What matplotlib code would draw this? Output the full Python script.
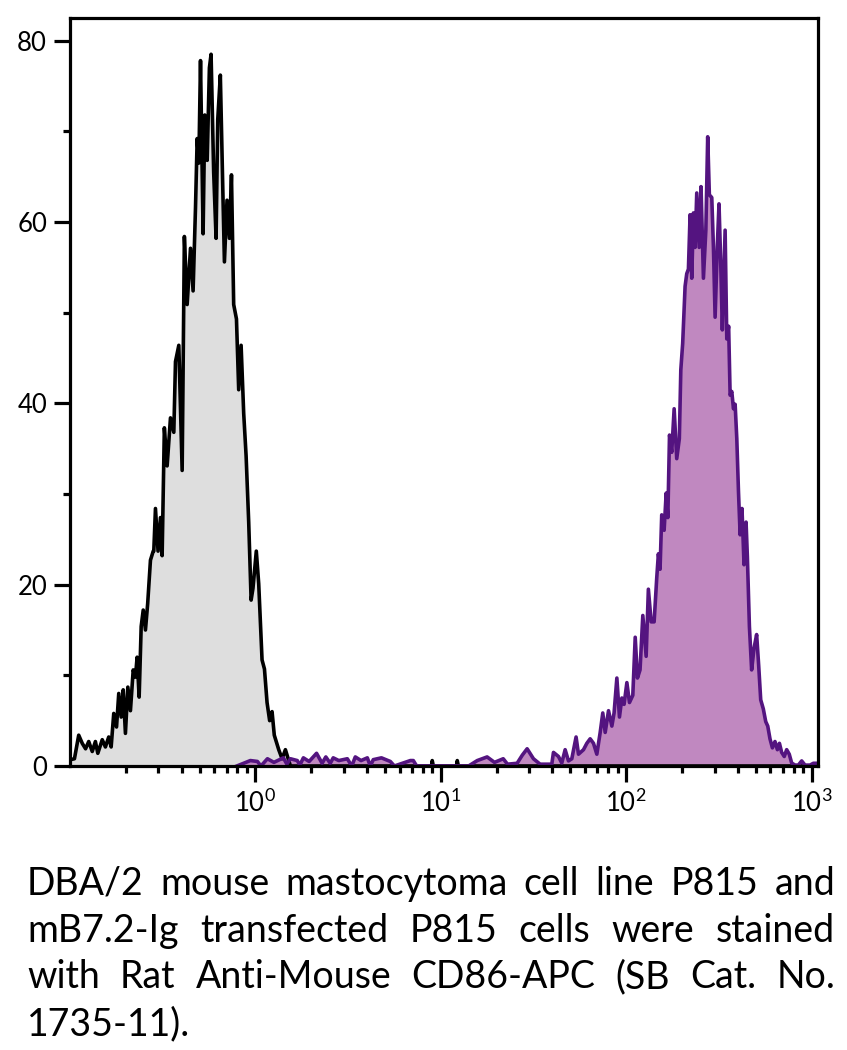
"""
Flow cytometry overlay: P815 vs mB7.2-Ig transfected P815, CD86-APC
"""
import numpy as np
import matplotlib
matplotlib.use("Agg")
import matplotlib.pyplot as plt
from matplotlib.ticker import FixedLocator, LogLocator, NullFormatter, FuncFormatter

plt.rcParams["font.family"] = ["Lato", "DejaVu Sans"]
plt.rcParams["mathtext.default"] = "regular"

# P815 (untransfected) histogram: log10 intensity and counts
black_log = [-0.997, -0.976, -0.953, -0.934, -0.916, -0.899, -0.880, -0.863, -0.850, -0.826,
             -0.809, -0.791, -0.778, -0.764, -0.749, -0.737, -0.724, -0.713, -0.701, -0.688,
             -0.674, -0.659, -0.647, -0.638, -0.627, -0.616, -0.605, -0.593, -0.581, -0.566,
             -0.551, -0.548, -0.539, -0.525, -0.512, -0.503, -0.491, -0.476, -0.458, -0.440,
             -0.431, -0.413, -0.395, -0.383, -0.368, -0.350, -0.336, -0.323, -0.314, -0.305,
             -0.296, -0.282, -0.273, -0.260, -0.248, -0.239, -0.225, -0.212, -0.203, -0.189,
             -0.176, -0.167, -0.153, -0.140, -0.129, -0.117, -0.102, -0.090, -0.077, -0.063,
             -0.050, -0.036, -0.023, -0.013, 0.005, 0.018, 0.036, 0.049, 0.063, 0.077,
             0.090, 0.102, 0.126, 0.144, 0.162, 0.189, 0.95, 0.954, 0.96, 1.085, 1.089,
             1.095, 3.035]
black_count = [0.7, 0.8, 3.4, 2.5, 1.9, 2.7, 1.6, 2.7, 1.4, 2.9,
               2.1, 3.2, 2.1, 5.8, 4.3, 8.0, 5.4, 8.4, 3.6, 8.7,
               6.1, 10.6, 9.8, 12.0, 7.6, 15.4, 17.2, 15.0, 17.9, 22.7,
               23.7, 23.7, 28.4, 23.7, 27.4, 23.2, 37.3, 33.1, 38.4, 36.8,
               44.6, 46.4, 32.6, 58.4, 50.9, 57.1, 52.4, 61.6, 69.2, 66.5,
               77.8, 58.7, 71.8, 66.8, 77.0, 78.5, 65.5, 58.2, 71.3, 76.2,
               63.9, 55.6, 62.4, 58.2, 65.2, 50.9, 49.3, 41.5, 46.4, 38.9,
               34.2, 26.9, 18.3, 19.6, 23.7, 20.1, 11.7, 10.7, 7.0, 5.0,
               6.0, 3.4, 1.8, 0.8, 1.8, 0.0, 0.0, 0.6, 0.0, 0.0, 0.6,
               0.0, 0.0]

# mB7.2-Ig transfected P815 histogram
purple_log = [-0.10, -0.027, 0.011, 0.030, 0.065, 0.100, 0.151, 0.170, 0.189, 0.226,
              0.240, 0.259, 0.290, 0.330, 0.360, 0.380, 0.404, 0.420, 0.450, 0.496,
              0.520, 0.539, 0.570, 0.604, 0.620, 0.636, 0.680, 0.728, 0.750, 0.836,
              0.852, 0.870, 1.150, 1.197, 1.250, 1.290, 1.337, 1.360, 1.412, 1.440,
              1.466, 1.500, 1.536, 1.599, 1.608, 1.635, 1.653, 1.671, 1.689, 1.707,
              1.730, 1.743, 1.770, 1.788, 1.806, 1.824, 1.842, 1.860, 1.874, 1.887,
              1.905, 1.923, 1.935, 1.950, 1.964, 1.977, 1.989, 2.004, 2.018, 2.036,
              2.049, 2.061, 2.075, 2.090, 2.108, 2.120, 2.135, 2.151, 2.165, 2.174,
              2.183, 2.192, 2.205, 2.216, 2.225, 2.234, 2.246, 2.259, 2.273, 2.287,
              2.295, 2.305, 2.318, 2.327, 2.336, 2.345, 2.354, 2.363, 2.372, 2.381,
              2.394, 2.404, 2.417, 2.430, 2.440, 2.449, 2.462, 2.471, 2.480, 2.492,
              2.501, 2.510, 2.519, 2.534, 2.543, 2.553, 2.561, 2.570, 2.579, 2.588,
              2.597, 2.606, 2.615, 2.625, 2.636, 2.647, 2.654, 2.665, 2.677, 2.690,
              2.704, 2.715, 2.726, 2.740, 2.753, 2.764, 2.776, 2.789, 2.803, 2.816,
              2.827, 2.839, 2.853, 2.866, 2.880, 2.893, 2.911, 2.929, 2.947, 2.965,
              2.992, 3.010, 3.035]
purple_count = [0.0, 0.6, 0.5, 0.0, 0.8, 0.4, 0.9, 0.2, 0.8, 0.6,
                0.1, 0.9, 0.5, 1.4, 0.3, 1.0, 0.3, 0.9, 0.6, 0.8,
                0.0, 1.0, 0.6, 0.9, 0.0, 0.7, 0.9, 0.5, 0.0, 0.6,
                0.6, 0.0, 0.0, 0.6, 1.0, 0.4, 0.8, 0.2, 0.3, 1.2,
                1.9, 0.8, 0.2, 0.2, 1.5, 1.05, 0.33, 1.8, 0.56, 0.8,
                3.2, 1.3, 1.8, 2.5, 3.0, 2.5, 1.3, 3.7, 5.85, 3.7,
                6.1, 4.4, 5.85, 9.7, 5.4, 7.5, 6.8, 9.2, 7.0, 7.8,
                14.2, 9.7, 10.6, 16.6, 12.1, 19.5, 15.9, 15.9, 20.7, 23.4,
                21.7, 27.7, 26.0, 30.1, 27.4, 36.5, 34.6, 39.4, 33.9, 36.1,
                43.7, 46.6, 52.9, 54.3, 54.8, 60.8, 53.8, 61.0, 57.2, 63.2,
                57.2, 63.9, 53.8, 59.1, 69.4, 63.0, 62.7, 57.2, 49.5, 57.4,
                62.0, 55.7, 48.1, 59.1, 47.1, 48.5, 40.9, 41.3, 39.4, 39.9,
                36.1, 30.3, 25.5, 28.4, 22.2, 26.9, 23.1, 15.4, 10.6, 13.0,
                14.5, 11.1, 7.3, 6.3, 4.9, 4.4, 3.0, 2.0, 2.7, 1.8,
                2.5, 1.5, 1.05, 1.8, 1.3, 0.33, 0.1, 0.1, 0.56, 0.1,
                0.1, 0.3, 0.3]

y_major = [0, 20, 40, 60, 80]
y_minor = [10, 30, 50, 70]
x_major = [1, 10, 100, 1000]

caption = ["DBA/2 mouse mastocytoma cell line P815 and",
           "mB7.2-Ig transfected P815 cells were stained",
           "with Rat Anti-Mouse CD86-APC (SB Cat. No.",
           "1735-11)."]

bx = 10 ** np.array(black_log)
px = 10 ** np.array(purple_log)

fig = plt.figure(figsize=(8.47, 10.5), dpi=100)
ax = fig.add_axes([70 / 847, 284 / 1050, 748 / 847, 748 / 1050])

ax.fill_between(bx, black_count, color="#dedede", lw=0)
ax.plot(bx, black_count, color="black", lw=2.6)
ax.fill_between(px, purple_count, color="#c088c0", lw=0)
ax.plot(px, purple_count, color="#541480", lw=2.6)

ax.set_xscale("log")
ax.set_xlim(0.1, 1084)
ax.set_ylim(0, 82.5)

ax.xaxis.set_major_locator(FixedLocator(x_major))
ax.xaxis.set_minor_locator(LogLocator(base=10, subs=range(2, 10), numticks=20))
ax.xaxis.set_major_formatter(FuncFormatter(lambda v, p: r"$10^{%d}$" % round(np.log10(v))))
ax.xaxis.set_minor_formatter(NullFormatter())
ax.yaxis.set_major_locator(FixedLocator(y_major))
ax.yaxis.set_minor_locator(FixedLocator(y_minor))

ax.tick_params(which="major", length=11.5, width=2.3, labelsize=18.5, pad=5, color="black")
ax.tick_params(which="minor", length=5, width=2.3)
for s in ax.spines.values():
    s.set_linewidth(2.3)

# justified caption
renderer = fig.canvas.get_renderer()
left, right = 27 / 847, 835 / 847
baselines = [895, 942, 988, 1035]
for i, line in enumerate(caption):
    y = 1 - baselines[i] / 1050
    words = line.split()
    if i == len(caption) - 1:
        fig.text(left, y, line, fontsize=27, va="baseline", ha="left")
        continue
    texts = [fig.text(0, y, w, fontsize=27, va="baseline", ha="left") for w in words]
    widths = [t.get_window_extent(renderer).width / fig.bbox.width for t in texts]
    gap = (right - left - sum(widths)) / (len(words) - 1)
    x = left
    for t, w in zip(texts, widths):
        t.set_x(x)
        x += w + gap

fig.savefig("out.png", dpi=100)
